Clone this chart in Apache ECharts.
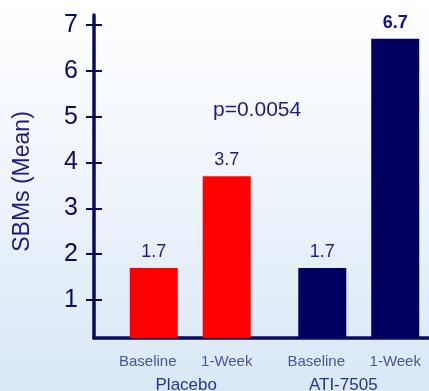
<!DOCTYPE html>
<html>
<head>
<meta charset="utf-8">
<script src="https://cdn.jsdelivr.net/npm/echarts@6/dist/echarts.min.js"></script>
<style>
  html, body { margin: 0; padding: 0; }
  #chart { width: 429px; height: 391px; }
</style>
</head>
<body>
<div id="chart"></div>
<script>
// Treatment groups and time points
const groups = ['Placebo', 'ATI-7505'];
const timepoints = ['Baseline', '1-Week'];
// Mean SBMs per group
const baselineValues = [1.7, 1.7];
const weekValues = [3.7, 6.7];
const yTicks = [1, 2, 3, 4, 5, 6, 7];
const pValueText = 'p=0.0054';

const groupColors = ['#ff0000', '#020160'];
const navy = '#0b0b5e';
const textNavy = '#1c1c84';
const FONT = '"Liberation Sans", Arial, sans-serif';

// value range of the plot (axis baseline sits slightly above zero)
const yMin = 0.17, yMax = 7;

const chart = echarts.init(document.getElementById('chart'));

const valueLabel = {
  show: true,
  position: 'top',
  distance: 7,
  fontFamily: FONT,
  fontSize: 18,
  color: textNavy
};

const PLOT_TOP = 25, PLOT_BOTTOM = 53, AXIS_X = 94;
const tickLabel = v => (yTicks.includes(v) ? String(v) : '');

chart.setOption({
  backgroundColor: {
    type: 'linear', x: 0, y: 0, x2: 0, y2: 1,
    colorStops: [
      { offset: 0, color: '#ffffff' },
      { offset: 1, color: '#dae8f6' }
    ]
  },
  animation: false,
  textStyle: { fontFamily: FONT },
  grid: [
    // bars
    { left: 106, width: 337, top: PLOT_TOP, bottom: PLOT_BOTTOM, outerBoundsMode: 'none' },
    // axis lines (y line runs a little above the top tick)
    { left: AXIS_X, right: 0, top: 15, bottom: PLOT_BOTTOM, outerBoundsMode: 'none' },
    // y ticks and labels
    { left: AXIS_X, right: 0, top: PLOT_TOP, bottom: PLOT_BOTTOM, outerBoundsMode: 'none' }
  ],
  xAxis: [
    {
      type: 'category',
      gridIndex: 0,
      data: groups,
      axisLine: { show: false },
      axisTick: { show: false },
      axisLabel: {
        margin: 13,
        interval: 0,
        formatter: (value, idx) =>
          `{t|${timepoints[0]}}{t|${timepoints[1]}}\n{g${idx}|${value}}`,
        rich: {
          t: { width: 73, align: 'center', fontSize: 15, color: '#4b5690', lineHeight: 22, padding: [0, 6, 0, 0], fontFamily: FONT },
          g0: { fontSize: 17, color: '#26348a', lineHeight: 25, padding: [0, 8, 0, 0], fontFamily: FONT },
          g1: { fontSize: 17, color: '#26348a', lineHeight: 25, padding: [0, 31, 0, 0], fontFamily: FONT }
        }
      }
    },
    {
      type: 'category',
      gridIndex: 1,
      data: [''],
      axisLine: { show: true, onZero: false, lineStyle: { color: navy, width: 3.5 } },
      axisTick: { show: false },
      axisLabel: { show: false }
    },
    {
      type: 'category',
      gridIndex: 2,
      data: [''],
      show: false
    }
  ],
  yAxis: [
    {
      type: 'value', gridIndex: 0, min: yMin, max: yMax, startValue: yMin,
      show: false, splitLine: { show: false }
    },
    {
      type: 'value', gridIndex: 1, position: 'left', min: yMin, max: yMax,
      axisLine: { show: true, lineStyle: { color: navy, width: 3.5 } },
      axisTick: { show: false },
      axisLabel: { show: false },
      splitLine: { show: false }
    },
    {
      // outward ticks, labels and axis title
      type: 'value', gridIndex: 2, position: 'left', min: yMin, max: yMax,
      name: 'SBMs (Mean)',
      nameLocation: 'middle',
      nameRotate: 90,
      nameGap: 60,
      nameTextStyle: { fontSize: 23, color: '#1c1c7a', fontFamily: FONT },
      axisLine: { show: false },
      axisTick: { show: true, length: 8, lineStyle: { color: navy, width: 2 } },
      axisLabel: { showMinLabel: false, formatter: tickLabel, margin: 16, fontSize: 25, color: navy, fontFamily: FONT },
      splitLine: { show: false }
    },
    {
      // inward half of the crossing ticks
      type: 'value', gridIndex: 2, position: 'left', offset: 0, min: yMin, max: yMax,
      axisLine: { show: false },
      axisTick: { show: true, inside: true, length: 8, lineStyle: { color: navy, width: 2 } },
      axisLabel: { show: false },
      splitLine: { show: false }
    }
  ],
  series: [
    {
      name: timepoints[0],
      type: 'bar',
      xAxisIndex: 0, yAxisIndex: 0,
      clip: true,
      barWidth: 48,
      barGap: '52%',
      label: valueLabel,
      data: baselineValues.map((v, i) => ({ value: v, itemStyle: { color: groupColors[i] } }))
    },
    {
      name: timepoints[1],
      type: 'bar',
      xAxisIndex: 0, yAxisIndex: 0,
      clip: true,
      barWidth: 48,
      barGap: '52%',
      label: valueLabel,
      data: weekValues.map((v, i) => ({
        value: v,
        itemStyle: { color: groupColors[i] },
        label: i === 1 ? { fontWeight: 'bold', color: '#10108c' } : {}
      }))
    }
  ],
  graphic: [
    {
      type: 'text',
      left: 213,
      top: 100,
      style: { text: pValueText, fontSize: 21, fill: textNavy, fontFamily: FONT }
    }
  ]
});
</script>
</body>
</html>
